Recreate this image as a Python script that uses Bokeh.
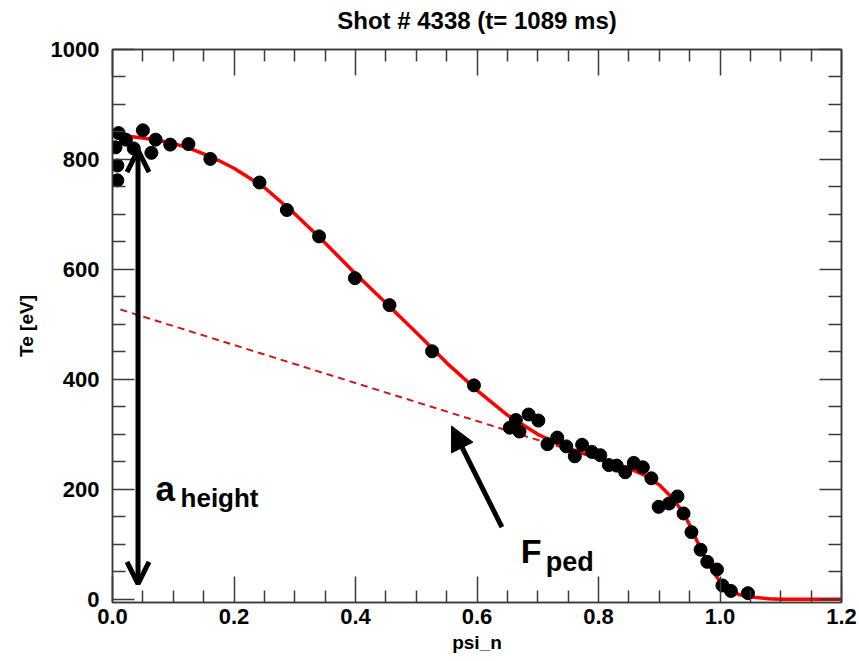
from bokeh.plotting import figure
from bokeh.models import (Range1d, LinearAxis, FixedTicker, PrintfTickFormatter,
                          Arrow, OpenHead, NormalHead, CustomLabelingPolicy)
from bokeh.core.properties import value
from bokeh.embed import file_html
from bokeh.resources import INLINE

# measured Te profile points
psi_n = [0.005, 0.008, 0.008, 0.010, 0.022, 0.035, 0.050, 0.064, 0.071, 0.095, 0.125, 0.161,
         0.242, 0.287, 0.340, 0.399, 0.456, 0.526, 0.595, 0.654, 0.664, 0.670, 0.685, 0.701,
         0.716, 0.732, 0.747, 0.761, 0.773, 0.789, 0.803, 0.817, 0.830, 0.844, 0.858, 0.873,
         0.887, 0.899, 0.916, 0.930, 0.940, 0.953, 0.968, 0.979, 0.995, 1.004, 1.018, 1.046]
te_ev = [822, 789, 762, 848, 836, 820, 853, 812, 836, 827, 828, 801,
         758, 708, 660, 584, 535, 451, 389, 312, 326, 305, 336, 325,
         282, 294, 278, 260, 281, 268, 262, 244, 243, 231, 248, 240,
         220, 168, 174, 187, 156, 122, 90, 68, 54, 25, 15, 11]

# fitted profile (red curve)
fit_psi = [0.0, 0.025, 0.05, 0.075, 0.1, 0.125, 0.15, 0.175, 0.2, 0.25, 0.3, 0.35, 0.4, 0.45,
           0.5, 0.55, 0.6, 0.65, 0.7, 0.75, 0.8, 0.85, 0.875, 0.9, 0.92, 0.94, 0.95, 0.96,
           0.97, 0.98, 0.99, 1.0, 1.01, 1.02, 1.03, 1.04, 1.06, 1.08, 1.1, 1.15, 1.2]
fit_te = [843, 842, 839, 835, 829, 821, 810, 798, 784, 749, 701, 648, 592, 539,
          485, 430, 380, 335, 300, 275, 256, 238, 226, 208, 186, 157, 135, 111,
          88, 67, 48, 32, 22, 14, 9, 6, 3, 1, 0, 0, 0]

# pedestal linear term (dashed)
ped_psi = [0.013, 0.78]
ped_te = [527, 262]

# tick positions
x_major = [0.0, 0.2, 0.4, 0.6, 0.8, 1.0, 1.2]
x_minor = [0.05, 0.1, 0.15, 0.25, 0.3, 0.35, 0.45, 0.5, 0.55, 0.65, 0.7, 0.75,
           0.85, 0.9, 0.95, 1.05, 1.1, 1.15]
y_major = [0, 200, 400, 600, 800, 1000]
y_minor = [50, 100, 150, 250, 300, 350, 450, 500, 550, 650, 700, 750, 850, 900, 950]

# annotations
aheight_x = [0.042, 0.042]
aheight_y = [28, 817]
fped_arrow_x = [0.641, 0.558]
fped_arrow_y = [131, 315]

TITLE = "Shot # 4338 (t= 1089 ms)"
FONT = "Liberation Sans"
AX_COLOR = "#3a3a3a"

p = figure(width=859, height=661, output_backend="svg", toolbar_location=None, title=None,
           x_range=Range1d(0, 1.2), y_range=Range1d(-6, 1000),
           min_border_left=112, min_border_right=18, min_border_top=49, min_border_bottom=59,
           x_axis_location=None, y_axis_location=None)
p.grid.visible = False
p.outline_line_color = AX_COLOR
p.outline_line_width = 1.5
p.background_fill_color = "white"
p.border_fill_color = "white"

hide_all = "for (const i of indices) indices.unset(i)"


def style_axis(ax, labels=True, major_len=24, minor_len=13):
    ax.axis_line_color = AX_COLOR
    ax.axis_line_width = 1.5
    ax.major_tick_line_color = AX_COLOR
    ax.minor_tick_line_color = AX_COLOR
    ax.major_tick_line_width = 1.5
    ax.minor_tick_line_width = 1.5
    ax.major_tick_in = major_len
    ax.major_tick_out = 0
    ax.minor_tick_in = minor_len
    ax.minor_tick_out = 0
    ax.axis_label_text_font = FONT
    ax.axis_label_text_font_style = "bold"
    ax.axis_label_text_font_size = "19px"
    ax.axis_label_text_color = "black"
    if labels:
        ax.major_label_text_font = FONT
        ax.major_label_text_font_style = "bold"
        ax.major_label_text_font_size = "22px"
        ax.major_label_text_color = "black"
    else:
        ax.major_label_text_font_size = "0px"
        ax.major_label_policy = CustomLabelingPolicy(code=hide_all)
        ax.major_label_standoff = 0
        ax.axis_label_standoff = 0


xb = LinearAxis(ticker=FixedTicker(ticks=x_major, minor_ticks=x_minor),
                formatter=PrintfTickFormatter(format="%.1f"), axis_label="psi_n")
style_axis(xb, True, 26, 12)
xb.major_label_standoff = 6
xb.axis_label_standoff = 5
p.add_layout(xb, "below")

# top axis carries the title as its label
xt = LinearAxis(ticker=FixedTicker(ticks=x_major, minor_ticks=x_minor), axis_label=TITLE)
style_axis(xt, False, 26, 12)
xt.axis_label_text_font_size = "24px"
xt.axis_label_standoff = 16
p.add_layout(xt, "above")

yl = LinearAxis(ticker=FixedTicker(ticks=y_major, minor_ticks=y_minor),
                formatter=PrintfTickFormatter(format="%d"), axis_label="Te [eV]")
style_axis(yl, True, 22, 13)
yl.major_label_standoff = 13
yl.axis_label_standoff = 11
p.add_layout(yl, "left")

yr = LinearAxis(ticker=FixedTicker(ticks=y_major, minor_ticks=y_minor))
style_axis(yr, False, 22, 13)
p.add_layout(yr, "right")

# pedestal linear term
p.line(ped_psi, ped_te, line_color="#cc1a1a", line_width=2, line_dash="7 5")
# fitted curve
p.line(fit_psi, fit_te, line_color="#ff0000", line_width=3.5)
# data
p.scatter(psi_n, te_ev, size=13, fill_color="black", line_color="black")

# arrows
p.add_layout(Arrow(start=OpenHead(size=22, line_width=5, line_color="black"),
                   end=OpenHead(size=22, line_width=5, line_color="black"),
                   x_start=aheight_x[0], y_start=aheight_y[0],
                   x_end=aheight_x[1], y_end=aheight_y[1],
                   line_width=5, line_color="black"))
p.add_layout(Arrow(end=NormalHead(size=24, fill_color="black", line_color="black"),
                   x_start=fped_arrow_x[0], y_start=fped_arrow_y[0],
                   x_end=fped_arrow_x[1], y_end=fped_arrow_y[1],
                   line_width=5, line_color="black"))

# labels a_height, F_ped
p.text(x=[0.0708], y=[202], text=["a"], text_font=value(FONT), text_font_style="bold",
       text_font_size="35px", text_color="black", text_baseline="alphabetic")
p.text(x=[0.112], y=[184], text=["height"], text_font=value(FONT), text_font_style="bold",
       text_font_size="26px", text_color="black", text_baseline="alphabetic")
p.text(x=[0.672], y=[88], text=["F"], text_font=value(FONT), text_font_style="bold",
       text_font_size="34px", text_color="black", text_baseline="alphabetic")
p.text(x=[0.713], y=[68], text=["ped"], text_font=value(FONT), text_font_style="bold",
       text_font_size="27px", text_color="black", text_baseline="alphabetic")

open("out.html", "w").write(file_html(p, INLINE))
